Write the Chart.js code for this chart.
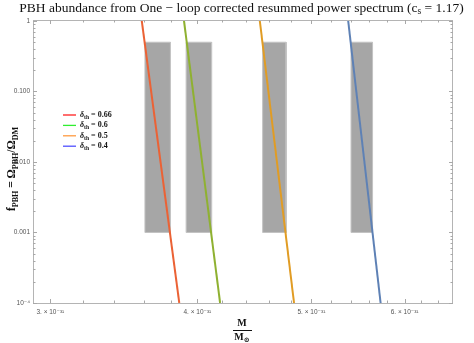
<!DOCTYPE html>
<html>
<head>
<meta charset="utf-8">
<script src="https://cdn.jsdelivr.net/npm/chart.js@4.4.1/dist/chart.umd.min.js"></script>
<style>
  html, body { margin: 0; padding: 0; background: #fff; }
  #wrap { width: 474px; height: 343px; position: relative; }
</style>
</head>
<body>
<div id="wrap"><canvas id="pbhChart"></canvas></div>
<script>
// mass in units of 1e-31 solar masses
const massTicks = [3, 4, 5, 6];
const massTickLabels = ['3. \u00D7 10\u207B\u00B3\u00B9', '4. \u00D7 10\u207B\u00B3\u00B9', '5. \u00D7 10\u207B\u00B3\u00B9', '6. \u00D7 10\u207B\u00B3\u00B9'];
const massMinorTicks = [3.2, 3.4, 3.6, 3.8, 4.2, 4.4, 4.6, 4.8, 5.2, 5.4, 5.6, 5.8, 6.2, 6.4];
const fTicks = [1e-4, 1e-3, 1e-2, 1e-1, 1];
const fTickLabels = ['10\u207B\u2074', '0.001', '0.010', '0.100', '1'];

// threshold curves: mass where f = 1.033 (top) and f = 1e-4 (bottom)
const thresholds = ['0.66', '0.6', '0.5', '0.4'];
const curveTopF = 1.033;
const curveBottomF = 1e-4;
const curveTopMass = [3.587, 3.896, 4.519, 5.372];
const curveBottomMass = [3.861, 4.182, 4.833, 5.725];
const curveColors = ['#EB6235', '#8FB131', '#E19C24', '#5E81B5'];
const legendColors = ['#ff2020', '#30ee30', '#ff9a40', '#5050ff'];

// grey constraint boxes
const boxLeft = [3.610, 3.913, 4.545, 5.403];
const boxRight = [3.795, 4.113, 4.759, 5.635];
const boxTop = 0.5;
const boxBottom = 0.001;

const serif = '"Liberation Serif", "DejaVu Serif", serif';
const sans = '"Liberation Sans", "DejaVu Sans", sans-serif';

// draws a run of text pieces, some of them subscripted, centred on (x, y)
function drawRich(ctx, parts, x, y, size, align) {
    let total = 0;
    parts.forEach(p => {
        ctx.font = (p.italic ? 'italic ' : '') + 'bold ' + (p.sub ? size * 0.7 : size) + 'px ' + serif;
        p.w = ctx.measureText(p.t).width;
        total += p.w;
    });
    let cx = align === 'left' ? x : x - total / 2;
    ctx.textBaseline = 'middle';
    ctx.textAlign = 'left';
    parts.forEach(p => {
        ctx.font = (p.italic ? 'italic ' : '') + 'bold ' + (p.sub ? size * 0.7 : size) + 'px ' + serif;
        ctx.fillText(p.t, cx, p.sub ? y + size * 0.3 : y);
        cx += p.w;
    });
}

const framePlugin = {
    id: 'frame',
    afterDraw(chart) {
        const { ctx, chartArea: a, scales: { x, y } } = chart;
        ctx.save();
        // frame
        ctx.strokeStyle = '#b4b4b4';
        ctx.lineWidth = 1;
        ctx.strokeRect(a.left + 0.5, a.top + 0.5, a.right - a.left - 1, a.bottom - a.top);

        // ticks, pointing inwards on all four sides
        ctx.strokeStyle = '#a8a8a8';
        ctx.beginPath();
        const xTick = (v, len) => {
            const px = Math.round(x.getPixelForValue(v)) + 0.5;
            ctx.moveTo(px, a.bottom); ctx.lineTo(px, a.bottom - len);
            ctx.moveTo(px, a.top); ctx.lineTo(px, a.top + len);
        };
        const yTick = (v, len) => {
            const py = Math.round(y.getPixelForValue(v)) + 0.5;
            ctx.moveTo(a.left, py); ctx.lineTo(a.left + len, py);
            ctx.moveTo(a.right, py); ctx.lineTo(a.right - len, py);
        };
        massTicks.forEach(v => xTick(v, 4));
        massMinorTicks.forEach(v => xTick(v, 2.5));
        fTicks.forEach(v => yTick(v, 4));
        fTicks.slice(0, 4).forEach(d => {
            for (let m = 2; m <= 9; m++) yTick(d * m, 2.5);
        });
        ctx.stroke();

        // tick labels
        ctx.fillStyle = '#555';
        ctx.font = '6.5px ' + sans;
        ctx.textAlign = 'center';
        ctx.textBaseline = 'top';
        massTicks.forEach((v, i) => ctx.fillText(massTickLabels[i], x.getPixelForValue(v), a.bottom + 6));
        ctx.textAlign = 'right';
        ctx.textBaseline = 'middle';
        fTicks.forEach((v, i) => ctx.fillText(fTickLabels[i], a.left - 3, y.getPixelForValue(v)));

        ctx.fillStyle = '#111';
        // title
        const t1 = 'PBH abundance from One \u2212 loop corrected resummed power spectrum (c';
        const t2 = ' = 1.17)';
        const big = '13.5px ' + serif, small = '9.5px ' + serif;
        ctx.font = big;
        const w1 = ctx.measureText(t1).width;
        const w2 = ctx.measureText(t2).width;
        ctx.font = small;
        const ws = ctx.measureText('s').width;
        const tx = 241.5 - (w1 + ws + w2) / 2;
        ctx.textAlign = 'left';
        ctx.textBaseline = 'middle';
        ctx.font = big;
        ctx.fillText(t1, tx, 8);
        ctx.fillText(t2, tx + w1 + ws, 8);
        ctx.font = small;
        ctx.fillText('s', tx + w1, 11);

        // x title as a fraction
        drawRich(ctx, [{ t: 'M' }], 242, 323, 10);
        ctx.fillRect(233, 330, 19, 1);
        drawRich(ctx, [{ t: 'M' }, { t: '\u2299', sub: true }], 242, 337, 10);

        // y title, rotated
        ctx.save();
        ctx.translate(12, 169);
        ctx.rotate(-Math.PI / 2);
        drawRich(ctx, [
            { t: 'f' }, { t: 'PBH', sub: true },
            { t: ' = \u03A9' }, { t: 'PBH', sub: true },
            { t: '/\u03A9' }, { t: 'DM', sub: true }
        ], 0, 0, 11.5);
        ctx.restore();

        // legend
        thresholds.forEach((th, i) => {
            const ly = 115 + i * 10.4;
            ctx.strokeStyle = legendColors[i];
            ctx.lineWidth = 1.3;
            ctx.beginPath();
            ctx.moveTo(63, ly); ctx.lineTo(76, ly);
            ctx.stroke();
            drawRich(ctx, [{ t: '\u03B4', italic: true }, { t: 'th', sub: true }, { t: ' = ' + th }], 80, ly, 8, 'left');
        });
        ctx.restore();
    }
};

const datasets = [];
thresholds.forEach((th, i) => {
    datasets.push({
        label: '\u03B4th = ' + th,
        data: [{ x: curveTopMass[i], y: curveTopF }, { x: curveBottomMass[i], y: curveBottomF }],
        borderColor: curveColors[i],
        borderWidth: 2,
        pointRadius: 0,
        fill: false,
        order: 0
    });
});
boxLeft.forEach((l, i) => {
    const r = boxRight[i];
    datasets.push({
        label: 'box' + i,
        data: [
            { x: l, y: boxBottom }, { x: l, y: boxTop }, { x: r, y: boxTop },
            { x: r, y: boxBottom }, { x: l, y: boxBottom }
        ],
        borderColor: '#c4c4c4',
        backgroundColor: '#a6a6a6',
        borderWidth: 1,
        pointRadius: 0,
        fill: 'shape',
        order: 10
    });
});

const ctx = document.getElementById('pbhChart').getContext('2d');
new Chart(ctx, {
    type: 'line',
    data: { datasets: datasets },
    options: {
        responsive: true,
        maintainAspectRatio: false,
        animation: false,
        layout: { padding: { top: 20, right: 21, left: 33, bottom: 40 } },
        plugins: {
            legend: { display: false },
            tooltip: { enabled: false },
            title: { display: false }
        },
        scales: {
            x: {
                type: 'logarithmic',
                display: false,
                min: 2.946,
                max: 6.596
            },
            y: {
                type: 'logarithmic',
                display: false,
                min: 1e-4,
                max: 1.033
            }
        }
    },
    plugins: [framePlugin]
});
</script>
</body>
</html>
